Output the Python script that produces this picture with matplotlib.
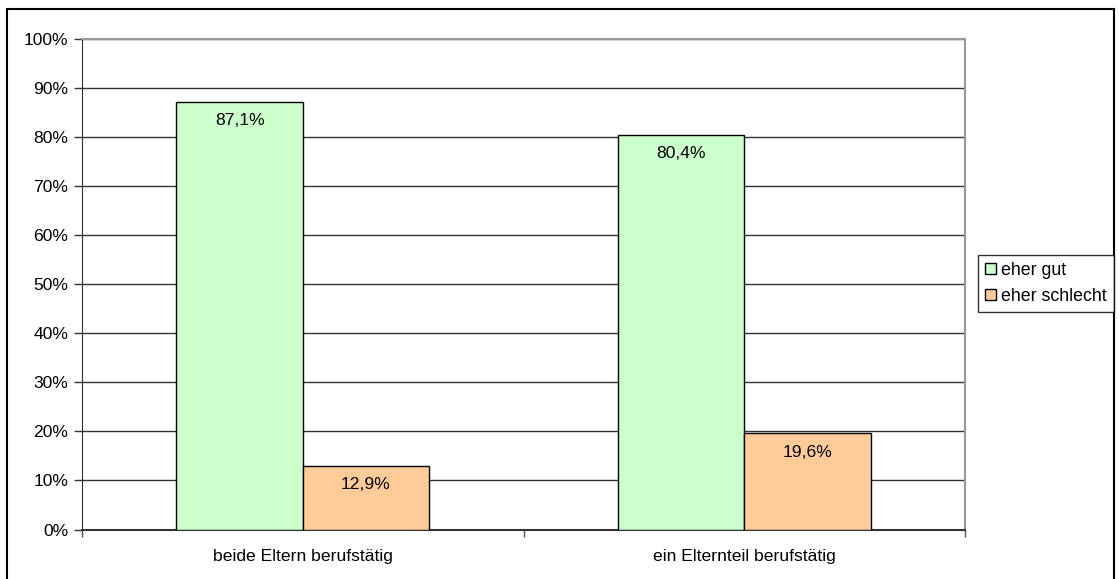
import matplotlib
matplotlib.use("Agg")
import matplotlib.pyplot as plt
from matplotlib.patches import Rectangle, Patch
from matplotlib.ticker import MultipleLocator, FuncFormatter
import numpy as np

plt.rcParams['font.family'] = ['Liberation Sans', 'DejaVu Sans']

categories = ["beide Eltern berufstätig", "ein Elternteil berufstätig"]
series_names = ["eher gut", "eher schlecht"]
eher_gut = [87.1, 80.4]
eher_schlecht = [12.9, 19.6]
colors = ["#CCFFCC", "#FFCC99"]

FS = 12.6
W, H = 1119, 579
fig = plt.figure(figsize=(W / 100, H / 100), dpi=100)
ax = fig.add_axes([82 / W, 1 - 529.5 / H, (965 - 82) / W, (529.5 - 39) / H])

x = np.arange(len(categories))
bw = 0.286
for vals, col, off in [(eher_gut, colors[0], -bw / 2), (eher_schlecht, colors[1], bw / 2)]:
    bars = ax.bar(x + off, vals, width=bw, color=col, edgecolor="black", linewidth=1.0, zorder=3)
    for b, v in zip(bars, vals):
        ax.text(b.get_x() + b.get_width() / 2, v - 3.8, f"{v:.1f}%".replace(".", ","),
                ha="center", va="center", fontsize=FS, zorder=4)

ax.set_xlim(-0.5, 1.5)
ax.set_ylim(0, 100)
ax.yaxis.set_major_locator(MultipleLocator(10))
ax.yaxis.set_major_formatter(FuncFormatter(lambda v, p: f"{int(round(v))}%"))
ax.yaxis.grid(True, color="#333333", linewidth=1.0, zorder=0)
ax.set_axisbelow(True)

ax.set_xticks([-0.5, 0.5, 1.5], minor=False)
ax.set_xticklabels([])
ax.set_xticks(x, minor=True)
ax.set_xticklabels(categories, minor=True, fontsize=FS)
ax.tick_params(axis="x", which="minor", length=0, pad=14)
ax.tick_params(axis="x", which="major", length=5, width=1, color="#555555", direction="out")
ax.tick_params(axis="y", length=6, width=1, color="#333333", direction="out", labelsize=FS, pad=4)

for side in ["top", "right"]:
    ax.spines[side].set_color("#999999")
    ax.spines[side].set_linewidth(1.5)
ax.spines["left"].set_color("#333333")
ax.spines["bottom"].set_color("#333333")
ax.spines["bottom"].set_linewidth(1.5)

handles = [Patch(facecolor=c, edgecolor="black", linewidth=1.0) for c in colors]
leg = fig.legend(handles, series_names, loc="upper left",
                 bbox_to_anchor=(978 / W, 1 - 255 / H), fontsize=12.8,
                 frameon=True, fancybox=False, shadow=False,
                 handlelength=0.6, handleheight=0.6, handletextpad=0.3,
                 borderpad=0.4, labelspacing=0.5, borderaxespad=0)
leg.get_frame().set_edgecolor("black")
leg.get_frame().set_linewidth(1.0)

fig.patches.append(Rectangle((7 / W, -0.01), (1114 - 7) / W, 1 - 9 / H + 0.01,
                             transform=fig.transFigure, fill=False,
                             edgecolor="black", linewidth=1.5, clip_on=False))

fig.savefig("out.png", dpi=100)
